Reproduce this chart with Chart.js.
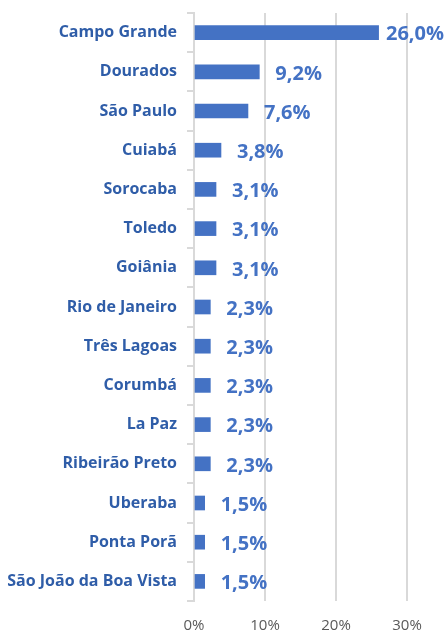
<!DOCTYPE html>
<html>
<head>
<meta charset="utf-8">
<script src="https://cdn.jsdelivr.net/npm/chart.js@4"></script>
<style>
  html, body { margin: 0; padding: 0; background: #fff; }
  #wrap { width: 446px; height: 633px; }
</style>
</head>
<body>
<div id="wrap"><canvas id="cityChart"></canvas></div>
<script>
// dados do gráfico
const cities = ['Campo Grande', 'Dourados', 'São Paulo', 'Cuiabá', 'Sorocaba', 'Toledo', 'Goiânia',
  'Rio de Janeiro', 'Três Lagoas', 'Corumbá', 'La Paz', 'Ribeirão Preto', 'Uberaba',
  'Ponta Porã', 'São João da Boa Vista'];
const shares = [26.0, 9.2, 7.6, 3.8, 3.1, 3.1, 3.1, 2.3, 2.3, 2.3, 2.3, 2.3, 1.5, 1.5, 1.5];
const axisTicks = [0, 10, 20, 30];

const fmt = v => v.toFixed(1).replace('.', ',') + '%';

// rótulos de valor ao lado das barras
const valueLabels = {
  id: 'valueLabels',
  afterDatasetsDraw(chart) {
    const ctx = chart.ctx;
    const meta = chart.getDatasetMeta(0);
    ctx.save();
    ctx.font = 'bold 20px "Open Sans"';
    ctx.fillStyle = '#4472C4';
    ctx.textBaseline = 'middle';
    meta.data.forEach((bar, i) => {
      const txt = fmt(shares[i]);
      const w = ctx.measureText(txt).width;
      let x = bar.x + 16;
      if (x + w > chart.width - 2) x = chart.width - w - 2;
      ctx.fillText(txt, x, bar.y + 2);
    });
    ctx.restore();
  }
};

new Chart(document.getElementById('cityChart'), {
  type: 'bar',
  data: {
    labels: cities,
    datasets: [{
      data: shares,
      backgroundColor: '#4472C4',
      barThickness: 14
    }]
  },
  options: {
    indexAxis: 'y',
    responsive: true,
    maintainAspectRatio: false,
    animation: false,
    layout: { padding: { top: 13, right: 39, left: 0, bottom: 0 } },
    plugins: { legend: { display: false }, tooltip: { enabled: false } },
    scales: {
      x: {
        min: 0, max: 30,
        afterBuildTicks: s => { s.ticks = axisTicks.map(v => ({ value: v })); },
        afterFit: s => { s.height = 32; s.paddingLeft = 0; s.paddingRight = 0; },
        ticks: {
          callback: v => v + '%',
          color: '#595959',
          font: { family: 'Open Sans', size: 15 },
          padding: 16
        },
        grid: { color: '#D9D9D9', lineWidth: 2, drawTicks: false },
        border: { display: false }
      },
      y: {
        afterFit: s => { s.width = 194; s.paddingTop = 0; s.paddingBottom = 0; },
        ticks: {
          color: '#2F5DA8',
          font: { family: 'Open Sans', size: 16, weight: 'bold' },
          padding: 10
        },
        grid: { offset: true, drawOnChartArea: false, drawTicks: true, tickLength: 7, color: '#D9D9D9', lineWidth: 2 },
        border: { display: true, color: '#D9D9D9', width: 2 }
      }
    }
  },
  plugins: [valueLabels]
});
</script>
</body>
</html>
